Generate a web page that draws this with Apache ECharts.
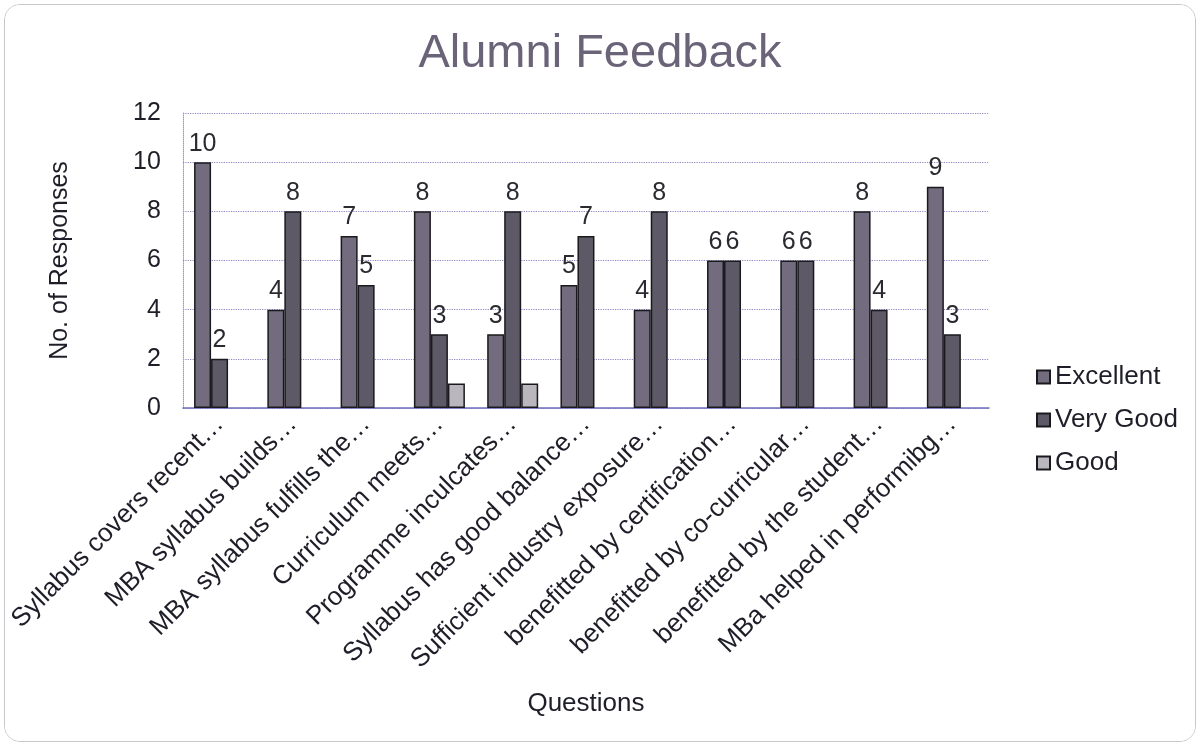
<!DOCTYPE html>
<html>
<head>
<meta charset="utf-8">
<script src="https://cdn.jsdelivr.net/npm/echarts@6/dist/echarts.min.js"></script>
<style>
  html, body { margin: 0; padding: 0; background: #fff; }
  #chart { position: absolute; left: 4px; top: 4px; width: 1192px; height: 738px;
    border: 1.5px solid #c8c8cc; border-radius: 16px; box-sizing: border-box; overflow: hidden; }
</style>
</head>
<body>
<div id="chart"></div>
<script>
const questions = [
  'Syllabus covers recent…',
  'MBA syllabus builds…',
  'MBA syllabus fulfills the…',
  'Curriculum meets…',
  'Programme inculcates…',
  'Syllabus has good balance…',
  'Sufficient industry exposure…',
  'benefitted by certification…',
  'benefitted by co-curricular…',
  'benefitted by the student…',
  'MBa helped in performibg…'
]
const excellent = [10, 4, 7, 8, 3, 5, 4, 6, 6, 8, 9]
const veryGood = [2, 8, 5, 3, 8, 7, 8, 6, 6, 4, 3]
const good = [0, 0, 0, 1, 1, 0, 0, 0, 0, 0, 0]
const yTicks = [0, 2, 4, 6, 8, 10, 12]

const chart = echarts.init(document.getElementById('chart'))

// zero answers draw no bar at all
const noZero = arr => arr.map(v => (v ? v : '-'))

const labelStyle = {
  show: true,
  position: 'top',
  distance: 6,
  fontFamily: 'Liberation Sans',
  fontSize: 25,
  color: '#2a2a30'
}

chart.setOption({
  animation: false,
  backgroundColor: '#fff',
  title: {
    text: 'Alumni Feedback',
    left: 'center',
    top: 21,
    textStyle: {
      fontFamily: 'Liberation Sans',
      fontWeight: 'normal',
      fontSize: 47,
      color: '#6b6478'
    }
  },
  legend: {
    orient: 'vertical',
    left: 1026,
    top: 354,
    itemWidth: 13,
    itemHeight: 13,
    itemGap: 17,
    icon: 'rect',
    textStyle: {
      fontFamily: 'Liberation Sans',
      fontSize: 26,
      color: '#1e1e28'
    },
    data: ['Excellent', 'Very Good', 'Good']
  },
  grid: {
    left: 176,
    right: 206,
    top: 108,
    bottom: 333,
    containLabel: false
  },
  xAxis: {
    type: 'category',
    data: questions,
    name: 'Questions',
    nameLocation: 'middle',
    nameGap: 283,
    nameTextStyle: {
      fontFamily: 'Liberation Sans',
      fontSize: 26,
      color: '#1e1e28'
    },
    axisLine: { lineStyle: { color: '#6f6fc0', width: 1.5 } },
    axisTick: { show: false },
    axisLabel: {
      interval: 0,
      rotate: 45,
      margin: 12,
      fontFamily: 'Liberation Sans',
      fontSize: 26,
      color: '#1e1e28'
    }
  },
  yAxis: {
    type: 'value',
    min: 0,
    max: 12,
    interval: 2,
    name: 'No. of Responses',
    nameLocation: 'middle',
    nameGap: 110,
    nameTextStyle: {
      fontFamily: 'Liberation Sans',
      fontSize: 25,
      color: '#1e1e28'
    },
    axisLine: { show: true, lineStyle: { color: '#a0a0a8', type: 'dotted' } },
    axisTick: { show: false },
    axisLabel: {
      margin: 22,
      fontFamily: 'Liberation Sans',
      fontSize: 25,
      color: '#1e1e28',
      formatter: v => (yTicks.includes(v) ? v : '')
    },
    splitLine: { lineStyle: { color: '#8a86c4', type: 'dotted', width: 1.2 } }
  },
  series: [
    {
      name: 'Excellent',
      type: 'bar',
      barWidth: 17,
      barGap: '0%',
      itemStyle: { color: '#736c7e', borderColor: '#1a1a1e', borderWidth: 1.5 },
      label: labelStyle,
      data: noZero(excellent)
    },
    {
      name: 'Very Good',
      type: 'bar',
      barWidth: 17,
      barGap: '0%',
      itemStyle: { color: '#5e5966', borderColor: '#1a1a1e', borderWidth: 1.5 },
      label: labelStyle,
      data: noZero(veryGood)
    },
    {
      name: 'Good',
      type: 'bar',
      barWidth: 17,
      barGap: '0%',
      itemStyle: { color: '#b9b6be', borderColor: '#1a1a1e', borderWidth: 1.5 },
      label: { show: false },
      data: noZero(good)
    }
  ]
})
</script>
</body>
</html>
